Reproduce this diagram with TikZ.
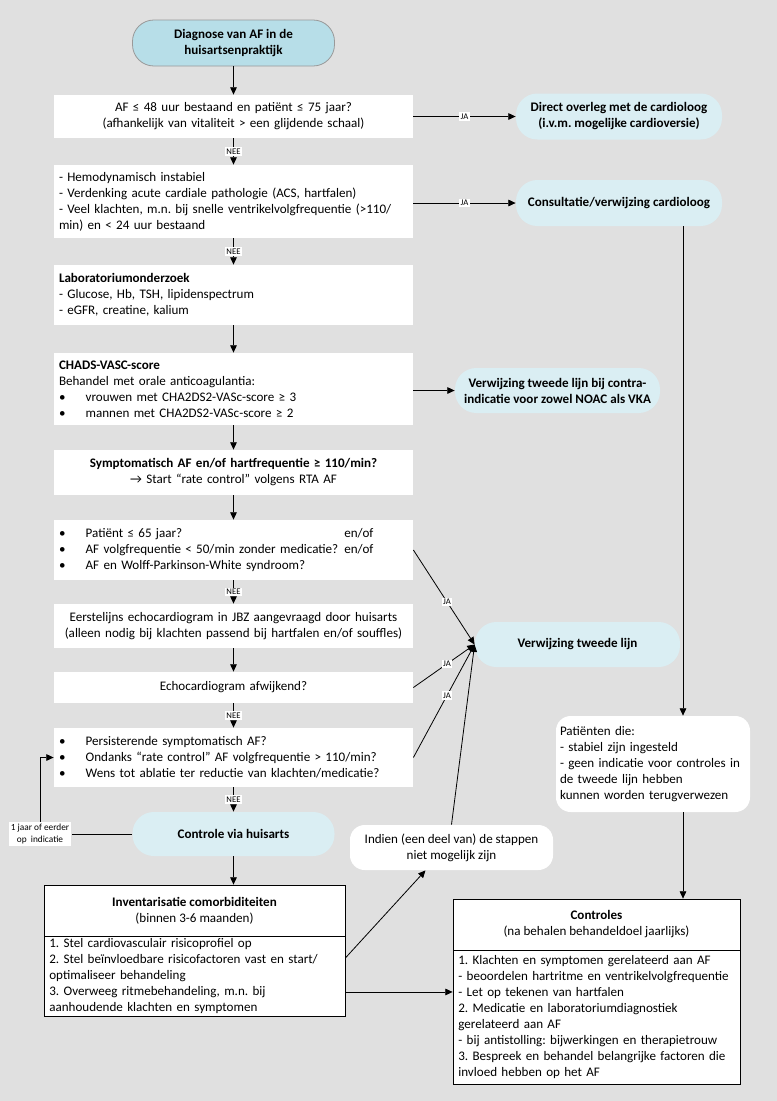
\documentclass[tikz,border=0pt]{standalone}
\usepackage{fontspec}
\setmainfont{Carlito}
\usepackage{tikz}
\usetikzlibrary{arrows.meta}

\definecolor{bggrey}{HTML}{E0E0E0}
\definecolor{aquadark}{HTML}{B7DEE8}
\definecolor{aqualight}{HTML}{DAEEF3}

\newcommand{\afitem}[1]{\makebox[20pt][l]{\textbullet}#1}

\tikzset{
  stepbox/.style={fill=white, inner sep=3.75pt, text width=261.75pt},
  leftbox/.style={stepbox, align=left},
  midbox/.style={stepbox, align=center},
  pill/.style={fill=aqualight, rounded corners=16pt, align=center, font=\bfseries,
    minimum width=154.5pt, minimum height=34.5pt},
  roundbox/.style={fill=white, rounded corners=11pt, inner sep=3pt},
  framebox/.style={draw=black, fill=white},
  answer/.style={fill=white, inner sep=1pt, font=\fontsize{6.5}{7}\selectfont},
}

\begin{document}
\frenchspacing
\fontsize{9.8}{12}\selectfont
\begin{tikzpicture}[x=0.75pt, y=-0.75pt, line width=0.6pt,
    >={Triangle[length=5.5pt,width=5pt]}]
        \fill[bggrey] (0,0) rectangle (777,1101);
        \useasboundingbox (0,0) rectangle (777,1101);

        \node[pill, fill=aquadark, draw=black!40, minimum width=151.5pt] (start) at (233.5,43) {Diagnose van AF in de\\huisartsenpraktijk};
        \node[midbox, minimum height=32.25pt] (q1) at (233.5,116.5) {AF ≤ 48 uur bestaand en patiënt ≤ 75 jaar?\\(afhankelijk van vitaliteit > een glijdende schaal)};
        \node[pill] (direct) at (619,116.5) {Direct overleg met de cardioloog\\(i.v.m. mogelijke cardioversie)};
        \node[leftbox, minimum height=54.75pt] (q2) at (233.5,201.5) {- Hemodynamisch instabiel\\- Verdenking acute cardiale pathologie (ACS, hartfalen)\\- Veel klachten, m.n. bij snelle ventrikelvolgfrequentie (>110/\\min) en < 24 uur bestaand};
        \node[pill] (cons) at (619,203) {Consultatie/verwijzing cardioloog};
        \node[leftbox, minimum height=45pt] (lab) at (233.5,295) {\textbf{Laboratoriumonderzoek}\\- Glucose, Hb, TSH, lipidenspectrum\\- eGFR, creatine, kalium};
        \node[leftbox, minimum height=54pt] (chads) at (233.5,389) {\textbf{CHADS-VASC-score}\\Behandel met orale anticoagulantia:\\\afitem{vrouwen met CHA2DS2-VASc-score ≥ 3}\\\afitem{mannen met CHA2DS2-VASc-score ≥ 2}};
        \node[pill, minimum width=153.75pt, minimum height=33.75pt] (contra) at (557.5,390.5) {Verwijzing tweede lijn bij contra-\\indicatie voor zowel NOAC als VKA};
        \node[midbox, minimum height=33.75pt] (sympt) at (233.5,472.5) {\textbf{Symptomatisch AF en/of hartfrequentie ≥ 110/min?}\\→ Start “rate control” volgens RTA AF};
        \node[leftbox, minimum height=45pt] (young) at (233.5,550) {\afitem{\makebox[194pt][l]{Patiënt ≤ 65 jaar?}en/of}\\\afitem{\makebox[194pt][l]{AF volgfrequentie < 50/min zonder medicatie?}en/of}\\\afitem{AF en Wolff-Parkinson-White syndroom?}};
        \node[midbox, minimum height=33pt] (echo) at (233.5,626) {Eerstelijns echocardiogram in JBZ aangevraagd door huisarts\\(alleen nodig bij klachten passend bij hartfalen en/of souffles)};
        \node[midbox, minimum height=23.25pt] (abnormal) at (233.5,687.5) {Echocardiogram afwijkend?};
        \node[leftbox, minimum height=44.25pt] (persist) at (233.5,757.5) {\afitem{Persisterende symptomatisch AF?}\\\afitem{Ondanks “rate control” AF volgfrequentie > 110/min?}\\\afitem{Wens tot ablatie ter reductie van klachten/medicatie?}};
        \node[pill, minimum width=151.5pt, minimum height=33pt] (gp) at (233.5,834) {Controle via huisarts};
        \node[pill, minimum width=153.75pt, minimum height=33.75pt] (second) at (577.5,644.5) {Verwijzing tweede lijn};
        \node[roundbox, align=center, minimum width=152.25pt, minimum height=33.75pt] (fail) at (451.5,847.5) {Indien (een deel van) de stappen\\niet mogelijk zijn};
        \node[roundbox, align=left, text width=139.5pt, minimum height=72pt] (stable) at (653,764) {Patiënten die:\\- stabiel zijn ingesteld\\- geen indicatie voor controles in\\de tweede lijn hebben\\kunnen worden terugverwezen};

        \node[framebox, align=center, minimum width=225.75pt, minimum height=39pt] (invtop) at (194.5,911) {\textbf{Inventarisatie comorbiditeiten}\\(binnen 3-6 maanden)};
        \node[framebox, align=left, text width=217.75pt, inner xsep=4pt, inner ysep=2pt, minimum height=59.25pt] (invbody) at (194.5,976.5) {1. Stel cardiovasculair risicoprofiel op\\2. Stel beïnvloedbare risicofactoren vast en start/\\optimaliseer behandeling\\3. Overweeg ritmebehandeling, m.n. bij\\aanhoudende klachten en symptomen};
        \node[framebox, align=center, minimum width=215.25pt, minimum height=38.25pt] (ctrtop) at (596.5,924.5) {\textbf{Controles}\\(na behalen behandeldoel jaarlijks)};
        \node[framebox, align=left, text width=207.25pt, inner xsep=4pt, inner ysep=1pt, minimum height=100.5pt] (ctrbody) at (596.5,1017) {1. Klachten en symptomen gerelateerd aan AF\\- beoordelen hartritme en ventrikelvolgfrequentie\\- Let op tekenen van hartfalen\\2. Medicatie en laboratoriumdiagnostiek\\gerelateerd aan AF\\- bij antistolling: bijwerkingen en therapietrouw\\3. Bespreek en behandel belangrijke factoren die\\invloed hebben op het AF};

        \node[answer, font=\fontsize{7}{9}\selectfont, align=center, inner sep=1.5pt] (yearly) at (40,834) {1 jaar of eerder\\op~~indicatie};

        \draw[->] (start) -- (q1);
        \draw[->] (q1) -- node[answer] {JA} (direct);
        \draw[->] (q1) -- node[answer] {NEE} (q2);
        \draw[->] (q2.east |- cons) -- node[answer] {JA} (cons);
        \draw[->] (q2) -- node[answer] {NEE} (lab);
        \draw[->] (lab) -- (chads);
        \draw[->] (chads.east |- contra) -- (contra);
        \draw[->] (chads) -- (sympt);
        \draw[->] (sympt) -- (young);
        \draw[->] (young) -- node[answer] {NEE} (echo);
        \draw[->] (echo) -- (abnormal);
        \draw[->] (abnormal) -- node[answer] {NEE} (persist);
        \draw[->] (persist) -- node[answer] {NEE} (gp);
        \draw[->] (gp.south) -- (gp.south |- invtop.north);

        \draw (gp) -- (yearly);
        \draw[->] (yearly) |- (persist.west);

        \draw[->] (young.east) -- node[answer, pos=0.55] {JA} (second.west);
        \draw[->] (abnormal.east) -- node[answer, pos=0.55] {JA} (second.west);
        \draw[->] (persist.east) -- node[answer, pos=0.55] {JA} (second.west);
        \draw[->] (fail.north) -- (second.west);

        \draw[->] ([yshift=13.9pt]invbody.east) -- ([xshift=-19.5pt]fail.south);
        \draw[->] ([yshift=-11.6pt]invbody.east) coordinate (invout) -- (invout -| ctrbody.west);

        \draw[->] ([xshift=48pt]cons.south) coordinate (down) -- (down |- stable.north);
        \draw[->] (down |- stable.south) -- (down |- ctrtop.north);
    \end{tikzpicture}
\end{document}
